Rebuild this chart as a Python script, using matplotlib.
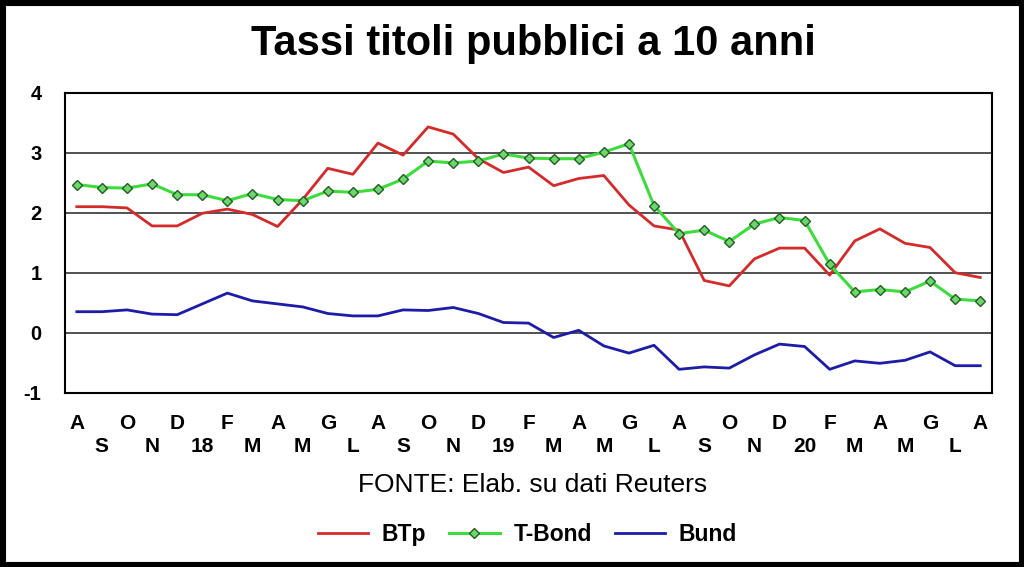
import numpy as np
import matplotlib.pyplot as plt
from matplotlib.patches import Rectangle

months = ["A", "S", "O", "N", "D", "18", "F", "M", "A", "M", "G", "L",
          "A", "S", "O", "N", "D", "19", "F", "M", "A", "M", "G", "L",
          "A", "S", "O", "N", "D", "20", "F", "M", "A", "M", "G", "L", "A"]

btp = [2.10, 2.10, 2.08, 1.78, 1.78, 1.99, 2.06, 1.97, 1.77, 2.22, 2.74, 2.64,
       3.16, 2.96, 3.43, 3.31, 2.90, 2.67, 2.76, 2.45, 2.57, 2.62, 2.13, 1.78,
       1.71, 0.87, 0.78, 1.23, 1.41, 1.41, 0.96, 1.53, 1.73, 1.49, 1.42, 1.00, 0.92]

tbond = [2.47, 2.42, 2.41, 2.48, 2.30, 2.30, 2.20, 2.32, 2.22, 2.20, 2.36, 2.34,
         2.39, 2.56, 2.86, 2.83, 2.86, 2.98, 2.91, 2.90, 2.90, 3.01, 3.15, 2.12,
         1.65, 1.71, 1.52, 1.81, 1.92, 1.87, 1.14, 0.68, 0.72, 0.68, 0.86, 0.56, 0.53]

bund = [0.35, 0.35, 0.38, 0.31, 0.30, 0.48, 0.66, 0.53, 0.48, 0.43, 0.32, 0.28,
        0.28, 0.38, 0.37, 0.42, 0.32, 0.17, 0.16, -0.08, 0.04, -0.22, -0.34, -0.21,
        -0.61, -0.57, -0.59, -0.37, -0.19, -0.23, -0.61, -0.47, -0.51, -0.46, -0.32, -0.55, -0.55]

plt.rcParams['font.family'] = ['Liberation Sans', 'DejaVu Sans']

fig = plt.figure(figsize=(10.24, 5.67), dpi=100)
ax = fig.add_axes([0.0635, 0.3074, 0.9053, 0.5291])

x = np.arange(len(months))
ax.plot(x, btp, color='#d42a2a', lw=2, label='BTp')
ax.plot(x, tbond, color='#3ddc3d', lw=2.2, marker='D', markersize=5,
        markerfacecolor='#6fd66f', markeredgecolor='#1f5f1f', markeredgewidth=1, label='T-Bond')
ax.plot(x, bund, color='#1c1ca8', lw=2, label='Bund')

ax.set_xlim(-0.47, 36.47)
ax.set_ylim(-1, 4)
ax.set_yticks([-1, 0, 1, 2, 3, 4])
ax.set_yticklabels(['-1', '0', '1', '2', '3', '4'], fontsize=14.5, fontweight='bold')
ax.yaxis.grid(True, color='#333333', lw=1.2)
ax.tick_params(axis='y', length=0, pad=17)

# alternate months on two rows
labels = [m if i % 2 == 0 else '\n' + m for i, m in enumerate(months)]
ax.set_xticks(x)
ax.set_xticklabels(labels, fontsize=15, fontweight='bold', linespacing=1.3)
ax.tick_params(axis='x', length=0, pad=15)
for s in ax.spines.values():
    s.set_linewidth(1.5)

fig.text(0.5205, 0.903, 'Tassi titoli pubblici a 10 anni', ha='center', va='baseline',
         fontsize=30, fontweight='bold')
fig.text(0.52, 0.144, 'FONTE: Elab. su dati Reuters', ha='center', va='center',
         fontsize=19)
fig.legend(loc='center', bbox_to_anchor=(0.515, 0.058), ncol=3, frameon=False,
           prop={'size': 16.5, 'weight': 'bold'}, handlelength=2.2, handletextpad=0.6,
           columnspacing=1.0)

fig.patches.append(Rectangle((0, 0), 1, 1, transform=fig.transFigure, fill=False,
                             lw=8, ec='black'))

fig.savefig('out.png', dpi=100)
